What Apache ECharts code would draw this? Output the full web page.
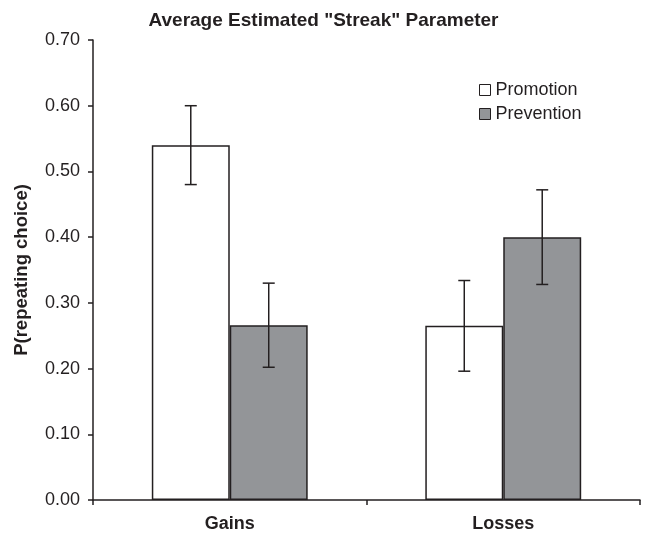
<!DOCTYPE html>
<html>
<head>
<meta charset="utf-8">
<script src="https://cdn.jsdelivr.net/npm/echarts@6/dist/echarts.min.js"></script>
<style>html,body{margin:0;padding:0;background:#fff}#c{width:647px;height:533px}</style>
</head>
<body>
<div id="c"></div>
<script>
var categories = ['Gains', 'Losses'];
var seriesNames = ['Promotion', 'Prevention'];
var promotion = [0.54, 0.265];
var prevention = [0.266, 0.40];
var promotionErr = [0.06, 0.069];
var preventionErr = [0.064, 0.072];
var yTicks = [0, 0.1, 0.2, 0.3, 0.4, 0.5, 0.6, 0.7];

var FONT = '"Liberation Sans", Arial, Helvetica, sans-serif';
var INK = '#231f20';
var BAR_FRAC = 0.285;

function errSeries(vals, errs, side) {
  return {
    type: 'custom',
    name: 'err' + side,
    silent: true,
    z: 10,
    data: vals.map(function (v, i) { return [i, v - errs[i], v + errs[i]]; }),
    renderItem: function (params, api) {
      var band = api.size([1, 0])[0];
      var off = side * band * BAR_FRAC / 2;
      var x = api.coord([api.value(0), 0])[0] + off;
      var yl = api.coord([api.value(0), api.value(1)])[1];
      var yh = api.coord([api.value(0), api.value(2)])[1];
      var cap = 6;
      var st = { stroke: INK, lineWidth: 1.5 };
      return {
        type: 'group',
        children: [
          { type: 'line', shape: { x1: x, y1: yl, x2: x, y2: yh }, style: st },
          { type: 'line', shape: { x1: x - cap, y1: yl, x2: x + cap, y2: yl }, style: st },
          { type: 'line', shape: { x1: x - cap, y1: yh, x2: x + cap, y2: yh }, style: st }
        ]
      };
    }
  };
}

var chart = echarts.init(document.getElementById('c'), null, { renderer: 'canvas' });
chart.setOption({
  animation: false,
  backgroundColor: '#ffffff',
  textStyle: { fontFamily: FONT },
  title: {
    text: 'Average Estimated "Streak" Parameter',
    left: 'center',
    top: 6,
    textStyle: { fontFamily: FONT, fontSize: 19, fontWeight: 'bold', color: INK }
  },
  legend: {
    data: seriesNames,
    orient: 'vertical',
    left: 474,
    top: 76,
    icon: 'rect',
    itemWidth: 11,
    itemHeight: 11,
    itemGap: 6,
    itemStyle: { borderWidth: 1 },
    textStyle: { fontFamily: FONT, fontSize: 18, color: INK, lineHeight: 18 }
  },
  grid: { left: 93, right: 7, top: 40, bottom: 33, containLabel: false },
  xAxis: {
    type: 'category',
    data: categories,
    boundaryGap: true,
    axisLine: { lineStyle: { color: INK, width: 1.5 } },
    axisTick: { show: true, length: 5, lineStyle: { color: INK, width: 1.5 } },
    axisLabel: { margin: 15, fontFamily: FONT, fontSize: 18, fontWeight: 'bold', color: INK },
    splitLine: { show: false }
  },
  yAxis: {
    type: 'value',
    min: yTicks[0],
    max: yTicks[yTicks.length - 1],
    interval: 0.1,
    name: 'P(repeating choice)',
    nameLocation: 'middle',
    nameGap: 62,
    nameTextStyle: { fontFamily: FONT, fontSize: 18.5, fontWeight: 'bold', color: INK },
    axisLine: { show: true, lineStyle: { color: INK, width: 1.5 } },
    axisTick: { show: true, length: 5, lineStyle: { color: INK, width: 1.5 } },
    axisLabel: {
      margin: 13, fontFamily: FONT, fontSize: 18, color: INK,
      formatter: function (v) { return v.toFixed(2); }
    },
    splitLine: { show: false }
  },
  series: [
    {
      type: 'bar', name: seriesNames[0], data: promotion,
      barWidth: (BAR_FRAC * 100) + '%', barGap: '0%',
      itemStyle: { color: '#ffffff', borderColor: INK, borderWidth: 1.5 }
    },
    {
      type: 'bar', name: seriesNames[1], data: prevention,
      barWidth: (BAR_FRAC * 100) + '%', barGap: '0%',
      itemStyle: { color: '#939598', borderColor: INK, borderWidth: 1.5 }
    },
    errSeries(promotion, promotionErr, -1),
    errSeries(prevention, preventionErr, 1)
  ]
});
</script>
</body>
</html>
